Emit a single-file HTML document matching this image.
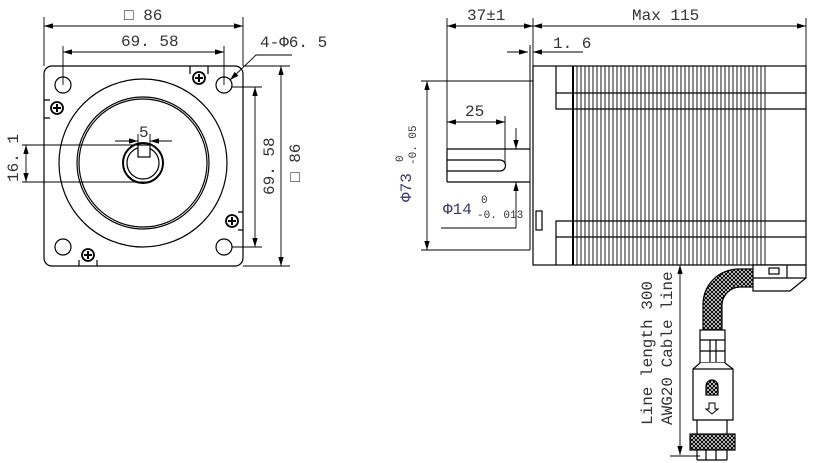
<!DOCTYPE html>
<html><head><meta charset="utf-8"><style>
html,body{margin:0;padding:0;background:#fff}
svg{display:block}
text{font-family:"Liberation Mono","DejaVu Sans Mono",monospace;fill:#333;font-size:16px}
.t{fill:#3a3a6a}
</style></head><body>
<svg width="818" height="463" viewBox="0 0 818 463" xmlns="http://www.w3.org/2000/svg">
<defs>
<pattern id="x" width="4" height="4" patternUnits="userSpaceOnUse">
<rect width="4" height="4" fill="#fff"/><path d="M0 0L4 4M4 0L0 4" stroke="#000" stroke-width="1.1"/>
</pattern>
<marker id="a" viewBox="0 0 10 6" refX="10" refY="3" markerWidth="10" markerHeight="6" orient="auto-start-reverse"><path d="M0 0L10 3L0 6z" fill="#000"/></marker>
<g id="sc" stroke="#000" fill="none"><circle r="6" stroke-width="1.8"/><path d="M-4 0H4M0-4V4" stroke-width="2"/></g>
</defs>
<g stroke="#000" fill="none" stroke-width="1.2">
<rect x="44" y="66" width="199" height="200" rx="8"/>
<circle cx="143" cy="163" r="84"/>
<circle cx="143" cy="163" r="66"/>
<circle cx="143" cy="163" r="64"/>
<circle cx="143" cy="163" r="20" stroke-width="2"/>
<circle cx="143" cy="163" r="16"/>
<rect x="138" y="145" width="12" height="12" fill="#fff"/>
<circle cx="63" cy="85" r="8"/><circle cx="224" cy="85" r="8"/>
<circle cx="63" cy="247" r="8"/><circle cx="224" cy="247" r="8"/>
<use href="#sc" x="199" y="78"/><use href="#sc" x="57" y="108"/><use href="#sc" x="232" y="221"/><use href="#sc" x="88" y="255"/>
<path d="M190 66V74M208 66V74M44 100H50M44 118H50M243 212H238M243 230H238M79 266V260M97 266V260"/>
<g stroke-width="0.9">
<path d="M44 17V66M243 17V66"/>
<path d="M44 26H243" marker-start="url(#a)" marker-end="url(#a)"/>
<path d="M63 46V85M224 46V85"/>
<path d="M63 52H224" marker-start="url(#a)" marker-end="url(#a)"/>
<path d="M230 80L256 55H292" marker-start="url(#a)"/>
<path d="M232 87H262M232 247H262"/>
<path d="M255 87V247" marker-start="url(#a)" marker-end="url(#a)"/>
<path d="M243 66H290M243 266H290"/>
<path d="M281 66V266" marker-start="url(#a)" marker-end="url(#a)"/>
<path d="M22 145H145M22 182H150"/>
<path d="M26 145V182" marker-start="url(#a)" marker-end="url(#a)"/>
<path d="M138 134V145M150 134V145"/>
<path d="M115 141H138" marker-end="url(#a)"/><path d="M172 141H150" marker-end="url(#a)"/>
</g>
<rect x="533" y="66" width="273" height="199"/>
<path d="M556 66V109H806M556 93H806M556 265V221H806M556 237H806"/>
<path d="M530 45V250" stroke="#555" stroke-width="1.5"/>
<path d="M573 66V265" stroke-width="2"/>
<path d="M577 66V265M581 66V265M585 66V265M589 66V265M593 66V265M597 66V265M601 66V265M605 66V265M609 66V265M613 66V265M617 66V265M621 66V265M625 66V265M629 66V265M633 66V265M637 66V265M641 66V265M645 66V265M649 66V265M653 66V265M657 66V265M661 66V265M665 66V265M669 66V265M673 66V265M677 66V265M681 66V265M685 66V265M689 66V265M693 66V265M697 66V265M701 66V265M705 66V265M709 66V265M713 66V265M717 66V265M721 66V265M725 66V265M729 66V265M733 66V265M737 66V265M741 66V265M745 66V265M749 66V265M753 66V265M757 66V265M761 66V265M765 66V265" stroke-width="0.9"/>
<path d="M447 149H530M447 182H530M447 149V182"/>
<path d="M447 160H500A5.5 5.5 0 0 1 500 171H447"/>
<rect x="536" y="211" width="6" height="19"/>
<g stroke-width="0.9">
<path d="M447 18V182M533 18V66M806 18V66"/>
<path d="M447 26H533" marker-start="url(#a)" marker-end="url(#a)"/>
<path d="M533 26H806" marker-start="url(#a)" marker-end="url(#a)"/>
<path d="M507 52H528" marker-end="url(#a)"/><path d="M583 52H533" marker-end="url(#a)"/>
<path d="M421 81H533M421 250H530"/>
<path d="M427 81V250" marker-start="url(#a)" marker-end="url(#a)"/>
<path d="M505 116V163"/>
<path d="M447 122H505" marker-start="url(#a)" marker-end="url(#a)"/>
<path d="M516 128V149" marker-end="url(#a)"/><path d="M516 228V182" marker-end="url(#a)"/>
<path d="M441 228H516"/>
<path d="M680 265V455" marker-start="url(#a)" marker-end="url(#a)"/>
<path d="M670 456H700"/>
</g>
<path d="M753 269H740C718 269 703 285 703 305V330H722V305C722 296 730 287 740 287H753Z" fill="url(#x)"/>
<path d="M753 265H806V278L790 291H753Z" fill="#fff"/>
<path d="M753 278H806M787 265V278"/>
<rect x="769" y="268" width="10" height="6"/>
<rect x="700" y="330" width="25" height="33" fill="#fff"/>
<path d="M700 340H725M700 351H725M710 340V362M716 340V362"/>
<path d="M700 363L693 369V420H733V369L725 363" fill="#fff"/>
<path d="M693 369H733"/>
<path d="M706 395V386A6 6 0 0 1 718 386V395Z" fill="url(#x)"/>
<path d="M709 403H715V409H718L712 414L706 409H709Z" stroke-width="1"/>
<path d="M697 420V434M727 420V434"/>
<rect x="690" y="434" width="45" height="16" fill="url(#x)"/>
<path d="M697 450V460M706 450V460M716 450V460M727 450V460M697 460H727"/>
</g>
<text x="124" y="20">□ 86</text>
<text x="121" y="46">69. 58</text>
<text x="260" y="47">4-Φ6. 5</text>
<text x="139" y="137">5</text>
<text transform="translate(18 182) rotate(-90)">16. 1</text>
<text transform="translate(274 195) rotate(-90)">69. 58</text>
<text transform="translate(300 182) rotate(-90)">□ 86</text>
<text x="467" y="20">37±1</text>
<text x="632" y="20">Max 115</text>
<text x="553" y="48">1. 6</text>
<text x="465" y="116">25</text>
<text x="443" y="214" class="t">Φ14</text>
<text x="481" y="203" style="font-size:11px">0</text>
<text x="477" y="218" style="font-size:11px">-0. 013</text>
<text transform="translate(411 202) rotate(-90)" class="t">Φ73</text>
<text transform="translate(403 162) rotate(-90)" style="font-size:11px">0</text>
<text transform="translate(416 165) rotate(-90)" style="font-size:11px">-0. 05</text>
<text transform="translate(652 425) rotate(-90)">Line length 300</text>
<text transform="translate(672 425) rotate(-90)">AWG20 Cable line</text>
</svg>
</body></html>
